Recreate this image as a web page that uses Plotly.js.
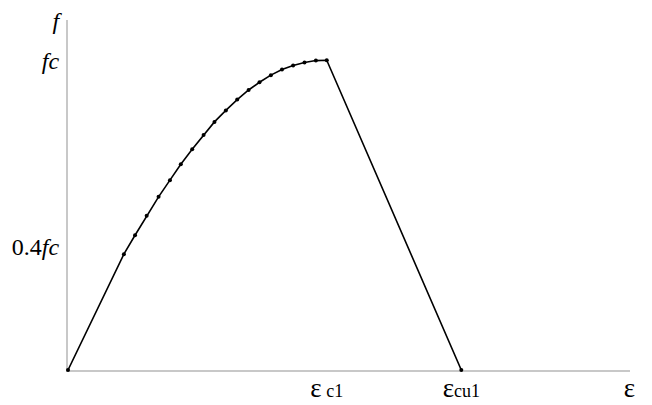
<!DOCTYPE html>
<html>
<head>
<meta charset="utf-8">
<script src="https://cdn.plot.ly/plotly-3.0.1.min.js"></script>
<style>html,body{margin:0;padding:0;background:#fff;}#chart{width:652px;height:405px;}</style>
</head>
<body>
<div id="chart"></div>
<script>
// normalized strain (ε / ε_c1) and stress (f / fc)
const strain = [0, 0.216, 0.259, 0.304, 0.350, 0.394, 0.436, 0.480, 0.524, 0.566, 0.610, 0.654, 0.698, 0.740, 0.784, 0.827, 0.870, 0.914, 0.958, 1.0, 1.520];
const stress = [0, 0.374, 0.435, 0.498, 0.559, 0.613, 0.664, 0.713, 0.759, 0.801, 0.838, 0.873, 0.904, 0.929, 0.952, 0.970, 0.983, 0.993, 0.999, 1.0, 0];

const xTickVals = [1.0, 1.52, 2.17];
const xTickText = ['<span style="font-size:27px">ε</span> c1', '<span style="font-size:27px">ε</span>cu1', '<span style="font-size:27px">ε</span>'];
const yTickVals = [0.4, 1.0, 1.128];
const yTickText = ['0.4<i>fc</i>', '<i>fc</i>', '<i>f</i>'];

const SERIF = 'Liberation Serif';

const trace = {
  x: strain, y: stress, type: 'scatter', mode: 'lines+markers',
  line: {color: '#000', width: 1.6},
  marker: {color: '#000', size: 4},
  hoverinfo: 'none', cliponaxis: false
};

const layout = {
  width: 652, height: 405,
  margin: {l: 68, r: 22, t: 20, b: 35},
  paper_bgcolor: '#fff', plot_bgcolor: '#fff',
  showlegend: false,
  font: {family: SERIF, color: '#000', size: 18},
  xaxis: {
    range: [0, 2.172], showgrid: false, zeroline: false,
    showline: true, linecolor: '#c8c8c8', linewidth: 2, layer: 'below traces',
    tickvals: xTickVals, ticktext: xTickText, ticks: '', ticklabelstandoff: 3,
    tickfont: {size: 18, family: SERIF, color: '#000'},
    fixedrange: true
  },
  yaxis: {
    range: [0, 1.13], showgrid: false, zeroline: false,
    showline: true, linecolor: '#c8c8c8', linewidth: 2, layer: 'below traces',
    tickvals: yTickVals, ticktext: yTickText, ticks: '', ticklabelstandoff: 2,
    tickfont: {size: 24, family: SERIF, color: '#000'},
    fixedrange: true
  }
};

Plotly.newPlot('chart', [trace], layout, {displayModeBar: false, staticPlot: true});
</script>
</body>
</html>
